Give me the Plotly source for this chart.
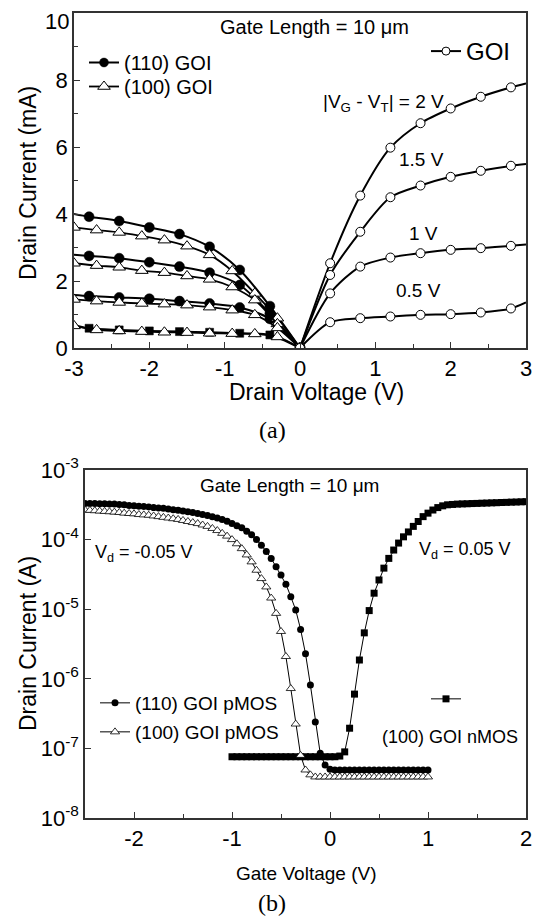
import plotly.graph_objects as go

# ---------------- Panel (a) data (Drain current, mA) ----------------
vd_110 = [-3.0, -2.8, -2.4, -2.0, -1.6, -1.2, -0.8, -0.4, 0.0]
id_110_2v = [4.00, 3.92, 3.79, 3.60, 3.40, 3.02, 2.33, 1.25, 0.0]
id_110_15v = [2.78, 2.75, 2.68, 2.56, 2.43, 2.25, 1.88, 1.03, 0.0]
id_110_1v = [1.58, 1.55, 1.51, 1.47, 1.40, 1.33, 1.21, 0.87, 0.0]
id_110_05v = [0.69, 0.59, 0.54, 0.51, 0.49, 0.47, 0.44, 0.39, 0.0]

vd_100 = [-3.0, -2.7, -2.4, -2.1, -1.8, -1.5, -1.2, -0.9, -0.6, -0.3, 0.0]
id_100_2v = [3.60, 3.52, 3.45, 3.34, 3.22, 3.04, 2.78, 2.30, 1.63, 0.89, 0.0]
id_100_15v = [2.53, 2.46, 2.41, 2.31, 2.25, 2.15, 2.05, 1.82, 1.43, 0.72, 0.0]
id_100_1v = [1.45, 1.40, 1.36, 1.33, 1.31, 1.28, 1.22, 1.13, 0.99, 0.60, 0.0]
id_100_05v = [0.66, 0.54, 0.51, 0.49, 0.47, 0.46, 0.44, 0.43, 0.42, 0.33, 0.0]

vd_goi = [0.0, 0.4, 0.8, 1.2, 1.6, 2.0, 2.4, 2.8, 3.0]
id_goi_2v = [0.0, 2.53, 4.55, 5.98, 6.71, 7.15, 7.50, 7.78, 7.90]
id_goi_15v = [0.0, 2.18, 3.47, 4.50, 4.85, 5.11, 5.29, 5.44, 5.49]
id_goi_1v = [0.0, 1.63, 2.43, 2.70, 2.83, 2.93, 2.98, 3.05, 3.09]
id_goi_05v = [0.0, 0.77, 0.89, 0.94, 0.99, 1.01, 1.06, 1.18, 1.36]

xticks_a = [-3, -2, -1, 0, 1, 2, 3]
xticktext_a = ["-3", "-2", "-1", "0", "1", "2", "3"]
yticks_a = [0, 2, 4, 6, 8, 10]
yticktext_a = ["0", "2", "4", "6", "8", ""]   # the "10" label is drawn below as an annotation
ytop_label_a = "10"

# ---------------- Panel (b) data (log10 of drain current, A) ----------------
vg_p = [-2.50, -2.45, -2.40, -2.35, -2.30, -2.25, -2.20, -2.15, -2.10, -2.05,
        -2.00, -1.95, -1.90, -1.85, -1.80, -1.75, -1.70, -1.65, -1.60, -1.55,
        -1.50, -1.45, -1.40, -1.35, -1.30, -1.25, -1.20, -1.15, -1.10, -1.05,
        -1.00, -0.95, -0.90, -0.85, -0.80, -0.75, -0.70, -0.65, -0.60, -0.55,
        -0.50, -0.45, -0.40, -0.35, -0.30, -0.25, -0.20, -0.15, -0.10, -0.05,
        0.00, 0.05, 0.10, 0.15, 0.20, 0.25, 0.30, 0.35, 0.40, 0.45,
        0.50, 0.55, 0.60, 0.65, 0.70, 0.75, 0.80, 0.85, 0.90, 0.95, 1.00]

log_id_110p = [-3.480, -3.480, -3.480, -3.485, -3.485, -3.490, -3.490, -3.495, -3.500, -3.510,
               -3.515, -3.520, -3.525, -3.530, -3.540, -3.545, -3.550, -3.560, -3.570, -3.580,
               -3.590, -3.600, -3.610, -3.625, -3.640, -3.655, -3.670, -3.690, -3.710, -3.735,
               -3.770, -3.800, -3.830, -3.880, -3.930, -4.000, -4.080, -4.170, -4.270, -4.390,
               -4.510, -4.640, -4.820, -5.010, -5.290, -5.640, -6.090, -6.620, -7.070, -7.240,
               -7.300, -7.310, -7.310, -7.310, -7.310, -7.310, -7.310, -7.310, -7.310, -7.310,
               -7.310, -7.310, -7.310, -7.310, -7.310, -7.310, -7.310, -7.310, -7.310, -7.310, -7.310]

log_id_100p = [-3.575, -3.580, -3.585, -3.590, -3.595, -3.600, -3.605, -3.610, -3.620, -3.625,
               -3.630, -3.640, -3.645, -3.650, -3.660, -3.670, -3.680, -3.690, -3.700, -3.710,
               -3.725, -3.740, -3.755, -3.770, -3.790, -3.810, -3.840, -3.870, -3.910, -3.950,
               -4.000, -4.060, -4.130, -4.220, -4.320, -4.440, -4.560, -4.680, -4.840, -5.060,
               -5.320, -5.680, -6.140, -6.650, -7.100, -7.310, -7.380, -7.410, -7.410, -7.410,
               -7.410, -7.410, -7.410, -7.410, -7.410, -7.410, -7.410, -7.410, -7.410, -7.410,
               -7.410, -7.410, -7.410, -7.410, -7.410, -7.410, -7.410, -7.410, -7.410, -7.410, -7.410]

vg_n = [-1.00, -0.95, -0.90, -0.85, -0.80, -0.75, -0.70, -0.65, -0.60, -0.55,
        -0.50, -0.45, -0.40, -0.35, -0.30, -0.25, -0.20, -0.15, -0.10, -0.05,
        0.00, 0.05, 0.10, 0.15, 0.20, 0.25, 0.30, 0.35, 0.40, 0.45,
        0.50, 0.55, 0.60, 0.65, 0.70, 0.75, 0.80, 0.85, 0.90, 0.95,
        1.00, 1.05, 1.10, 1.15, 1.20, 1.25, 1.30, 1.35, 1.40, 1.45,
        1.50, 1.55, 1.60, 1.65, 1.70, 1.75, 1.80, 1.85, 1.90, 1.95, 2.00]

log_id_100n = [-7.12, -7.12, -7.12, -7.12, -7.12, -7.12, -7.12, -7.12, -7.12, -7.12,
               -7.12, -7.12, -7.12, -7.12, -7.12, -7.12, -7.12, -7.12, -7.12, -7.12,
               -7.12, -7.12, -7.11, -7.05, -6.71, -6.22, -5.73, -5.34, -5.02, -4.77,
               -4.58, -4.41, -4.27, -4.15, -4.05, -3.96, -3.89, -3.81, -3.74, -3.67,
               -3.62, -3.575, -3.54, -3.515, -3.50, -3.495, -3.49, -3.487, -3.485, -3.482,
               -3.48, -3.477, -3.475, -3.472, -3.47, -3.467, -3.465, -3.462, -3.46, -3.457, -3.455]

yticks_b = [1e-8, 1e-7, 1e-6, 1e-5, 1e-4, 1e-3]
yticktext_b = ["10<sup>-8</sup>", "10<sup>-7</sup>", "10<sup>-6</sup>",
               "10<sup>-5</sup>", "10<sup>-4</sup>", "10<sup>-3</sup>"]
xticks_b = [-2, -1, 0, 1, 2]
xticktext_b = ["-2", "-1", "0", "1", "2"]

# The page body has an 8px margin, so the figure is drawn 8px in from the window corner.
OFF = 8
W, H = 542 - OFF, 918 - OFF
SANS = "Liberation Sans, Arial, sans-serif"
SERIF = "Liberation Serif, Times New Roman, serif"


def px(x):
    """screen pixel x -> paper fraction"""
    return (x - OFF) / W


def py(y):
    """screen pixel y -> paper fraction"""
    return 1 - (y - OFF) / H


fig = go.Figure()


def sizes(n, s, first_hidden=False, last_hidden=False):
    arr = [s] * n
    if first_hidden:
        arr[0] = 0
    if last_hidden:
        arr[-1] = 0
    return arr


# ---- Panel (a) traces ----
curves_110 = [id_110_2v, id_110_15v, id_110_1v, id_110_05v]
for i, ys in enumerate(curves_110):
    sym = "circle" if i < 3 else "square"
    fig.add_trace(go.Scatter(
        x=vd_110, y=ys, mode="lines+markers", name="(110) GOI",
        line=dict(color="black", width=2, shape="spline", smoothing=0.8),
        marker=dict(symbol=sym, size=sizes(len(ys), 10 if i < 3 else 8, first_hidden=True),
                    color="black", opacity=1, line=dict(color="black", width=0.5)),
        showlegend=(i == 0), legend="legend", xaxis="x", yaxis="y"))

curves_100 = [id_100_2v, id_100_15v, id_100_1v, id_100_05v]
for i, ys in enumerate(curves_100):
    fig.add_trace(go.Scatter(
        x=vd_100, y=ys, mode="lines+markers", name="(100) GOI",
        line=dict(color="black", width=1.8, shape="spline", smoothing=0.8),
        marker=dict(symbol="triangle-up", size=11, color="white", opacity=1,
                    line=dict(color="black", width=1)),
        showlegend=(i == 0), legend="legend5", xaxis="x", yaxis="y"))

curves_goi = [id_goi_2v, id_goi_15v, id_goi_1v, id_goi_05v]
for i, ys in enumerate(curves_goi):
    fig.add_trace(go.Scatter(
        x=vd_goi, y=ys, mode="lines+markers", name="GOI",
        line=dict(color="black", width=2, shape="spline", smoothing=0.8),
        marker=dict(symbol="circle", size=sizes(len(ys), 9, last_hidden=True), color="white",
                    opacity=1, line=dict(color="black", width=1)),
        showlegend=(i == 0), legend="legend2", xaxis="x", yaxis="y"))

# ---- Panel (b) traces ----
fig.add_trace(go.Scatter(
    x=vg_n, y=[10 ** v for v in log_id_100n], mode="lines+markers", name=" ",
    line=dict(color="black", width=1),
    marker=dict(symbol="square", size=7, color="black"),
    legend="legend4", xaxis="x2", yaxis="y2"))
fig.add_trace(go.Scatter(
    x=vg_p, y=[10 ** v for v in log_id_110p], mode="lines+markers", name="(110) GOI pMOS",
    line=dict(color="black", width=1),
    marker=dict(symbol="circle", size=7, color="black"),
    legend="legend3", xaxis="x2", yaxis="y2"))
fig.add_trace(go.Scatter(
    x=vg_p, y=[10 ** v for v in log_id_100p], mode="lines+markers", name="(100) GOI pMOS",
    line=dict(color="black", width=1),
    marker=dict(symbol="triangle-up", size=8, color="white", line=dict(color="black", width=0.8)),
    legend="legend6", xaxis="x2", yaxis="y2"))

axis_common = dict(showline=True, linecolor="#333", linewidth=1.5, mirror=True,
                   ticks="inside", tickcolor="#333", tickwidth=1.2, ticklen=6,
                   showgrid=False, zeroline=False, automargin=False,
                   ticklabeloverflow="allow",
                   tickfont=dict(size=22, family=SANS, color="black"))


def leg(x, y, size):
    return dict(x=px(x), y=py(y), xanchor="left", yanchor="top",
                font=dict(size=size, family=SANS, color="black"), bgcolor="rgba(0,0,0,0)")


fig.update_layout(
    width=W, height=H, margin=dict(l=0, r=0, t=0, b=0, autoexpand=False),
    paper_bgcolor="white", plot_bgcolor="white",
    font=dict(family=SANS, color="black", size=19),
    xaxis=dict(domain=[px(74), px(526)], anchor="y", range=[-3, 3],
               tickvals=xticks_a, ticktext=xticktext_a,
               minor=dict(dtick=0.5, ticks="inside", ticklen=4, tickcolor="#333"),
               **axis_common),
    yaxis=dict(domain=[py(348), py(13)], anchor="x", range=[0, 10],
               tickvals=yticks_a, ticktext=yticktext_a,
               minor=dict(dtick=1, ticks="inside", ticklen=4, tickcolor="#333"),
               **axis_common),
    xaxis2=dict(domain=[px(85), px(526)], anchor="y2", range=[-2.5, 2],
                tickvals=xticks_b, ticktext=xticktext_b,
                minor=dict(dtick=0.5, ticks="inside", ticklen=4, tickcolor="#333"),
                **axis_common),
    yaxis2=dict(domain=[py(818), py(470)], anchor="x2", type="log", range=[-8, -3],
                tickvals=yticks_b, ticktext=yticktext_b,
                **axis_common),
    legend=leg(84, 43, 20),
    legend5=leg(84, 67, 20),
    legend2=leg(426, 29, 24),
    legend3=leg(95, 684, 19),
    legend6=leg(95, 713, 19),
    legend4=leg(426, 680, 19),
)

annotations = [
    # panel (a)
    dict(text=ytop_label_a, x=px(70), y=1.0, xanchor="right", yanchor="top",
         font=dict(size=22, family=SANS), borderpad=0),
    dict(text="Drain Voltage (V)", x=px(316), y=py(392), font=dict(size=23, family=SANS)),
    dict(text="Drain Current (mA)", x=px(28), y=py(183), textangle=-90, font=dict(size=23, family=SANS)),
    dict(text="Gate Length = 10 \u03bcm", x=px(314), y=py(27), font=dict(size=20, family=SANS)),
    dict(text="|V<sub>G</sub> - V<sub>T</sub>| = 2 V", x=px(383), y=py(103), font=dict(size=19, family=SANS)),
    dict(text="1.5 V", x=px(421), y=py(160), font=dict(size=19, family=SANS)),
    dict(text="1 V", x=px(423), y=py(233), font=dict(size=19, family=SANS)),
    dict(text="0.5 V", x=px(418), y=py(290), font=dict(size=19, family=SANS)),
    dict(text="(a)", x=px(272), y=py(430), font=dict(size=24, family=SERIF)),
    # panel (b)
    dict(text="Gate Voltage (V)", x=px(306), y=py(873), font=dict(size=19, family=SANS)),
    dict(text="Drain Current (A)", x=px(28), y=py(644), textangle=-90, font=dict(size=23, family=SANS)),
    dict(text="Gate Length = 10 \u03bcm", x=px(289), y=py(485), font=dict(size=19, family=SANS)),
    dict(text="V<sub>d</sub> = -0.05 V", x=px(144), y=py(553), font=dict(size=18, family=SANS)),
    dict(text="V<sub>d</sub> = 0.05 V", x=px(465), y=py(550), font=dict(size=18, family=SANS)),
    dict(text="(100) GOI nMOS", x=px(450), y=py(737), font=dict(size=18, family=SANS)),
    dict(text="(b)", x=px(272), y=py(903), font=dict(size=24, family=SERIF)),
]
for a in annotations:
    a.setdefault("xanchor", "center")
    a.setdefault("yanchor", "middle")
    a.update(xref="paper", yref="paper", showarrow=False)
fig.update_layout(annotations=annotations)

fig.write_html("out.html")
